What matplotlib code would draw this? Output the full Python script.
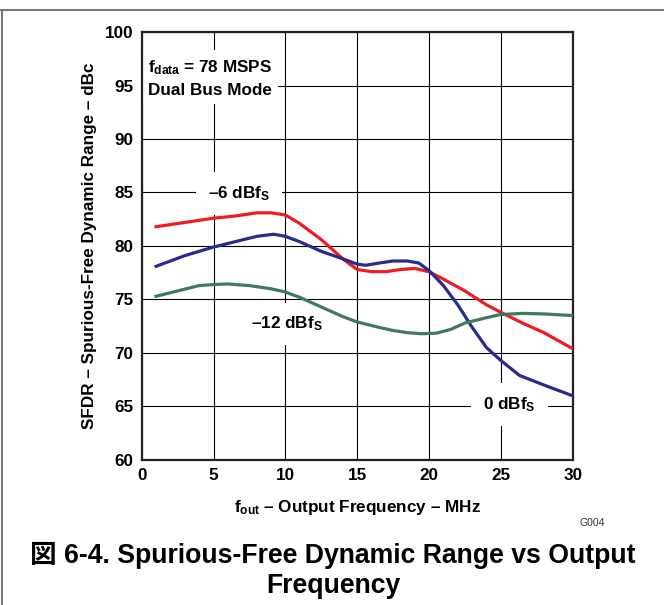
import numpy as np
import matplotlib
matplotlib.use("Agg")
import matplotlib.pyplot as plt
from matplotlib.lines import Line2D

plt.rcParams['font.family'] = ['Liberation Sans', 'Noto Sans CJK JP', 'DejaVu Sans']
plt.rcParams['mathtext.fontset'] = 'custom'
plt.rcParams['mathtext.rm'] = 'Liberation Sans:bold'
plt.rcParams['mathtext.bf'] = 'Liberation Sans:bold'
plt.rcParams['mathtext.it'] = 'Liberation Sans:bold'

# SFDR vs output frequency
f_6db = [1, 3, 5, 6.5, 8, 9, 10, 11, 12.5, 14, 15, 16, 17, 18, 19, 20, 21, 22.5, 24, 25, 26.5, 28, 30]
sfdr_6db = [81.8, 82.2, 82.6, 82.8, 83.1, 83.1, 82.9, 82.1, 80.6, 78.8, 77.8, 77.6, 77.6, 77.8, 77.9, 77.6, 76.9, 75.8, 74.5, 73.8, 72.8, 71.9, 70.4]

f_0db = [1, 3, 5, 6.5, 8, 9.2, 10, 11, 12.5, 14, 15, 15.6, 16.5, 17.5, 18.5, 19.3, 20, 21, 22, 23, 24, 25, 26.3, 28.2, 30]
sfdr_0db = [78.1, 79.1, 79.9, 80.4, 80.9, 81.1, 80.9, 80.4, 79.5, 78.8, 78.3, 78.2, 78.4, 78.6, 78.6, 78.4, 77.7, 76.3, 74.5, 72.4, 70.5, 69.3, 67.9, 66.9, 66.0]

f_12db = [1, 2.5, 4, 5, 6, 7.5, 9, 10, 11, 12.5, 14, 15, 16.5, 17.5, 18.5, 19.5, 20.5, 21.5, 22.5, 24, 25, 26.5, 28, 30]
sfdr_12db = [75.3, 75.8, 76.3, 76.4, 76.45, 76.3, 76.0, 75.7, 75.2, 74.3, 73.4, 72.9, 72.4, 72.1, 71.9, 71.8, 71.85, 72.2, 72.8, 73.3, 73.6, 73.7, 73.65, 73.5]

x_ticks = [0, 5, 10, 15, 20, 25, 30]
y_ticks = [60, 65, 70, 75, 80, 85, 90, 95, 100]

fs = 12.3

fig = plt.figure(figsize=(6.64, 6.05), dpi=100)
ax = fig.add_axes([0.2134, 0.2397, 0.6491, 0.7074])

ax.plot(f_6db, sfdr_6db, color='#ed1c24', lw=2.3, zorder=3, solid_joinstyle='round')
ax.plot(f_0db, sfdr_0db, color='#2a2c8c', lw=2.3, zorder=3, solid_joinstyle='round')
ax.plot(f_12db, sfdr_12db, color='#3f7a5c', lw=2.3, zorder=3, solid_joinstyle='round')

ax.set_xlim(0, 30)
ax.set_ylim(60, 100)
ax.set_xticks(x_ticks)
ax.set_yticks(y_ticks)
ax.tick_params(length=0, pad=6, labelsize=fs)
for lab in ax.get_xticklabels() + ax.get_yticklabels():
    lab.set_fontweight('bold')
ax.grid(True, color='black', lw=0.8, zorder=1)
ax.set_axisbelow(True)
for s in ax.spines.values():
    s.set_linewidth(1.6)
    s.set_color('#222222')

ax.set_xlabel(r'f$_{\mathbf{out}}$ – Output Frequency – MHz', fontsize=fs, fontweight='bold')
ax.set_ylabel('SFDR – Spurious-Free Dynamic Range – dBc', fontsize=fs, fontweight='bold')
ax.xaxis.set_label_coords(0.5, -0.088)
ax.yaxis.set_label_coords(-0.104, 0.5)

box = dict(facecolor='white', edgecolor='none', boxstyle='square,pad=0.7')
ax.text(0.45, 95.7, r'f$_{\mathbf{data}}$ = 78 MSPS' + '\nDual Bus Mode', fontsize=fs, fontweight='bold',
        va='center', ha='left', linespacing=1.5,
        bbox=dict(facecolor='white', edgecolor='none', boxstyle='square,pad=0.35'), zorder=2)
ax.text(6.8, 84.9, r'–6 dBf$_{\mathbf{S}}$', fontsize=fs, fontweight='bold', ha='center', va='center', bbox=box, zorder=2)
ax.text(10.1, 72.7, r'–12 dBf$_{\mathbf{S}}$', fontsize=fs, fontweight='bold', ha='center', va='center', bbox=box, zorder=2)
ax.text(25.6, 65.2, r'0 dBf$_{\mathbf{S}}$', fontsize=fs, fontweight='bold', ha='center', va='center', bbox=box, zorder=2)

fig.text(580 / 664, 1 - 523 / 605, 'G004', fontsize=7.5, color='#333333', ha='left', va='center')
fig.text(333 / 664, 1 - 563 / 605, '図 6-4. Spurious-Free Dynamic Range vs Output', fontsize=19.2,
         fontweight='bold', ha='center', va='baseline')
fig.text(333 / 664, 1 - 593 / 605, 'Frequency', fontsize=19.2, fontweight='bold', ha='center', va='baseline')

# page frame lines (top and left)
fig.add_artist(Line2D([0, 1], [1 - 9.5 / 605, 1 - 9.5 / 605], color='#777777', lw=1.5, transform=fig.transFigure))
fig.add_artist(Line2D([1.5 / 664, 1.5 / 664], [0, 1 - 9.5 / 605], color='#777777', lw=1.5, transform=fig.transFigure))

fig.savefig('out.png', dpi=100)
